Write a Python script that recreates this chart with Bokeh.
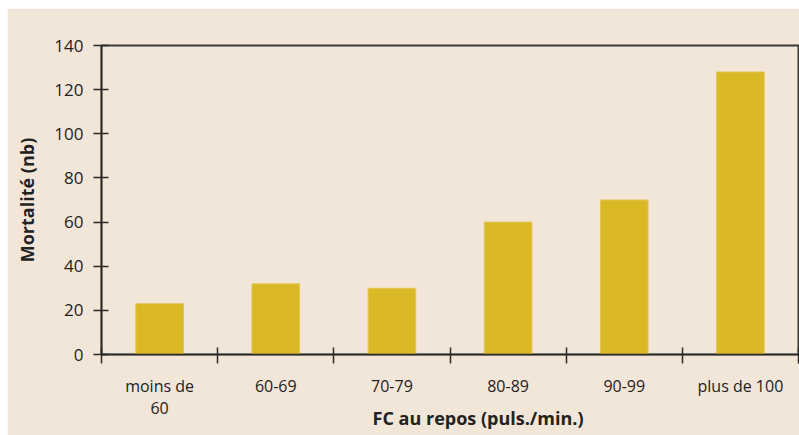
from bokeh.plotting import figure
from bokeh.models import ColumnDataSource, FixedTicker, Range1d
from bokeh.embed import file_html
from bokeh.resources import INLINE

# Resting heart rate classes and mortality counts
categories = ["moins de\n60", "60-69", "70-79", "80-89", "90-99", "plus de 100"]
mortality = [23, 32, 30, 60, 70, 128]
y_ticks = [0, 20, 40, 60, 80, 100, 120, 140]

BG = "#F2E6D9"
BAR = "#DBB926"
INK = "#2a2a2a"
TXT = "#222222"
FONT = "Open Sans"

centers = [i + 0.5 for i in range(len(categories))]
bounds = list(range(len(categories) + 1))

src = ColumnDataSource(dict(x=centers, top=mortality))

p = figure(
    width=792, height=427,
    x_range=Range1d(0, len(categories)),
    y_range=Range1d(0, 140),
    output_backend="svg", toolbar_location=None,
    background_fill_color=BG, border_fill_color=BG,
    min_border_left=94, min_border_right=1,
    min_border_top=37, min_border_bottom=81,
    margin=(8, 0, 0, 7),
)

p.vbar(x="x", top="top", width=0.41, bottom=0, source=src,
       fill_color=BAR, line_color="#E2C654", line_width=1)

p.grid.visible = False
p.outline_line_color = "#3a3a3a"
p.outline_line_width = 2

# x axis: labels at category centres, tick marks at class boundaries
xa = p.xaxis[0]
xa.ticker = FixedTicker(ticks=centers, minor_ticks=bounds)
xa.major_label_overrides = {c: lab for c, lab in zip(centers, categories)}
xa.major_tick_in = 0
xa.major_tick_out = 0
xa.minor_tick_in = 7
xa.minor_tick_out = 9
xa.minor_tick_line_color = INK
xa.minor_tick_line_width = 1.5
xa.axis_line_color = INK
xa.axis_line_width = 1.5
xa.major_label_standoff = 11
xa.major_label_text_font = FONT
xa.major_label_text_font_size = "16px"
xa.major_label_text_color = TXT
xa.major_label_text_line_height = 1.0
# leading no-break spaces push the centred title to the right
xa.axis_label = "\u00a0" * 12 + "FC au repos (puls./min.)"
xa.axis_label_text_font = FONT
xa.axis_label_text_font_size = "18px"
xa.axis_label_text_font_style = "bold"
xa.axis_label_text_color = TXT
xa.axis_label_standoff = -16

ya = p.yaxis[0]
ya.ticker = FixedTicker(ticks=y_ticks, minor_ticks=[])
ya.major_tick_in = 7
ya.major_tick_out = 8
ya.major_tick_line_color = INK
ya.major_tick_line_width = 1.5
ya.axis_line_color = INK
ya.axis_line_width = 1.5
ya.major_label_standoff = 10
ya.major_label_text_font = FONT
ya.major_label_text_font_size = "17px"
ya.major_label_text_color = TXT
ya.axis_label = "Mortalité (nb)"
ya.axis_label_text_font = FONT
ya.axis_label_text_font_size = "18px"
ya.axis_label_text_font_style = "bold"
ya.axis_label_text_color = TXT
ya.axis_label_standoff = 12

open("out.html", "w").write(file_html(p, INLINE))
